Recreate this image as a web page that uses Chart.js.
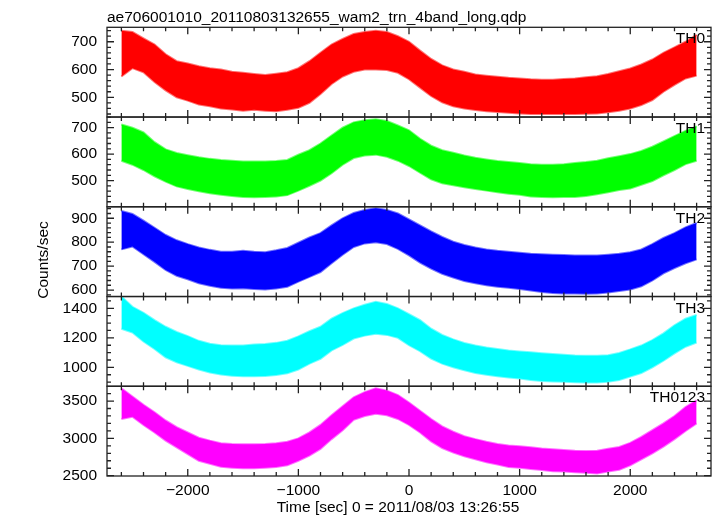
<!DOCTYPE html>
<html>
<head>
<meta charset="utf-8">
<script src="https://cdn.jsdelivr.net/npm/chart.js@4.4.1/dist/chart.umd.min.js"></script>
<style>
  html, body { margin: 0; padding: 0; background: #fff; }
</style>
</head>
<body>
<canvas id="lc" width="717" height="516"></canvas>
<script>
// ===== data (envelope of the noisy band, every 100 s) =====
var times = [-2600, -2500, -2400, -2300, -2200, -2100, -2000, -1900, -1800, -1700,
  -1600, -1500, -1400, -1300, -1200, -1100, -1000, -900, -800, -700,
  -600, -500, -400, -300, -200, -100, 0, 100, 200, 300,
  400, 500, 600, 700, 800, 900, 1000, 1100, 1200, 1300,
  1400, 1500, 1600, 1700, 1800, 1900, 2000, 2100, 2200, 2300,
  2400, 2500, 2600];

var th0Hi = [740, 735, 712, 690, 655, 630, 622, 612, 605, 600, 592, 588, 584, 580, 585, 590, 605, 630, 660, 690,
  710, 728, 735, 740, 735, 720, 700, 668, 638, 615, 600, 592, 582, 578, 574, 570, 568, 565, 563, 563,
  566, 568, 572, 576, 584, 594, 604, 618, 636, 660, 680, 700, 725];
var th0Lo = [575, 605, 590, 555, 525, 500, 488, 474, 468, 460, 456, 452, 455, 452, 450, 455, 462, 480, 512, 548,
  575, 592, 600, 600, 598, 588, 565, 535, 505, 482, 468, 460, 454, 450, 447, 444, 442, 440, 440, 440,
  440, 440, 441, 442, 446, 452, 460, 472, 490, 520, 545, 568, 578];

var th1Hi = [712, 700, 682, 645, 618, 604, 596, 588, 582, 578, 575, 572, 572, 572, 574, 578, 598, 615, 640, 670,
  700, 720, 728, 732, 725, 708, 690, 658, 632, 615, 605, 595, 586, 580, 574, 570, 566, 562, 560, 560,
  562, 566, 570, 575, 584, 592, 600, 612, 628, 648, 668, 688, 705];
var th1Lo = [575, 560, 540, 516, 496, 478, 468, 460, 452, 446, 442, 438, 437, 438, 440, 445, 462, 480, 500, 528,
  560, 585, 595, 598, 590, 575, 555, 530, 505, 490, 482, 475, 468, 462, 456, 450, 446, 440, 438, 437,
  438, 438, 442, 448, 456, 464, 470, 484, 498, 520, 540, 562, 575];

var th2Hi = [930, 918, 890, 860, 830, 808, 792, 778, 768, 760, 760, 764, 760, 758, 766, 776, 798, 820, 838, 870,
  900, 922, 935, 942, 935, 920, 895, 870, 845, 822, 802, 788, 778, 770, 764, 760, 756, 752, 750, 748,
  746, 744, 744, 744, 748, 752, 758, 770, 792, 818, 838, 862, 880];
var th2Lo = [770, 782, 750, 718, 684, 660, 645, 628, 618, 610, 606, 608, 604, 602, 606, 614, 635, 655, 675, 712,
  748, 780, 795, 800, 792, 772, 745, 715, 690, 668, 652, 638, 628, 620, 614, 610, 604, 598, 592, 588,
  586, 586, 585, 586, 590, 596, 602, 616, 640, 670, 692, 712, 728];

var th3Hi = [1480, 1410, 1370, 1320, 1275, 1240, 1212, 1180, 1160, 1150, 1148, 1148, 1155, 1158, 1166, 1180, 1210, 1245, 1275, 1330,
  1368, 1400, 1425, 1445, 1430, 1400, 1360, 1320, 1262, 1220, 1190, 1165, 1148, 1135, 1125, 1115, 1108, 1102, 1096, 1090,
  1085, 1080, 1078, 1078, 1082, 1098, 1122, 1148, 1185, 1230, 1285, 1330, 1355];
var th3Lo = [1262, 1236, 1175, 1125, 1068, 1035, 1010, 985, 965, 952, 944, 940, 940, 942, 948, 960, 985, 1025, 1058, 1115,
  1152, 1195, 1215, 1228, 1220, 1200, 1150, 1110, 1060, 1025, 1000, 980, 962, 950, 940, 932, 925, 915, 908, 905,
  902, 900, 898, 898, 902, 915, 938, 962, 1000, 1045, 1095, 1140, 1168];

var th4Hi = [3670, 3560, 3450, 3350, 3240, 3150, 3080, 3010, 2970, 2935, 2925, 2920, 2920, 2925, 2935, 2955, 3000, 3080, 3180, 3310,
  3430, 3550, 3620, 3670, 3640, 3580, 3480, 3370, 3260, 3160, 3090, 3030, 2990, 2955, 2925, 2905, 2895, 2880, 2865, 2855,
  2845, 2835, 2832, 2835, 2860, 2885, 2940, 3020, 3110, 3200, 3300, 3420, 3510];
var th4Lo = [3260, 3290, 3180, 3080, 2970, 2880, 2790, 2700, 2660, 2620, 2605, 2600, 2600, 2605, 2615, 2640, 2700, 2770, 2860, 2990,
  3110, 3250, 3300, 3330, 3310, 3260, 3180, 3080, 2960, 2870, 2810, 2760, 2720, 2680, 2650, 2615, 2605, 2590, 2575, 2560,
  2555, 2545, 2540, 2530, 2555, 2580, 2640, 2720, 2800, 2890, 2990, 3100, 3200];

// tick labels
var xTicks = [-2000, -1000, 0, 1000, 2000];
var th0Ticks = [500, 600, 700];
var th1Ticks = [500, 600, 700];
var th2Ticks = [600, 700, 800, 900];
var th3Ticks = [1000, 1200, 1400];
var th4Ticks = [2500, 3000, 3500];

var titleText = "ae706001010_20110803132655_wam2_trn_4band_long.qdp";
var xTitle = "Time [sec] 0 = 2011/08/03 13:26:55";
var yTitle = "Counts/sec";

// ===== panels =====
var panels = [
  { id: "y0", label: "TH0",    color: "#ff0000", hi: th0Hi, lo: th0Lo, min: 429,  max: 752,  ticks: th0Ticks, minor: 20 },
  { id: "y1", label: "TH1",    color: "#00ff00", hi: th1Hi, lo: th1Lo, min: 401,  max: 740,  ticks: th1Ticks, minor: 20 },
  { id: "y2", label: "TH2",    color: "#0000ff", hi: th2Hi, lo: th2Lo, min: 573,  max: 948,  ticks: th2Ticks, minor: 20 },
  { id: "y3", label: "TH3",    color: "#00ffff", hi: th3Hi, lo: th3Lo, min: 872,  max: 1480, ticks: th3Ticks, minor: 50 },
  { id: "y4", label: "TH0123", color: "#ff00ff", hi: th4Hi, lo: th4Lo, min: 2496, max: 3698, ticks: th4Ticks, minor: 100 }
];

var FONT = '"Liberation Sans", Arial, Helvetica, sans-serif';
Chart.defaults.font.family = FONT;
Chart.defaults.font.size = 15.5;
Chart.defaults.color = "#000";

function fmt(v) {
  return v < 0 ? "\u2212" + Math.abs(v) : String(v);
}

function alpha(hex, a) {
  var r = parseInt(hex.substr(1, 2), 16), g = parseInt(hex.substr(3, 2), 16), b = parseInt(hex.substr(5, 2), 16);
  return "rgba(" + r + "," + g + "," + b + "," + a + ")";
}

var datasets = [];
var scales = {
  x: {
    type: "linear", position: "bottom", min: -2730, max: 2730,
    grid: { display: false, drawTicks: false }, border: { display: false },
    ticks: { padding: 5, maxRotation: 0, autoSkip: false, callback: function (v) { return fmt(v); } },
    afterBuildTicks: function (s) { s.ticks = xTicks.map(function (v) { return { value: v }; }); },
    afterFit: function (s) { s.height = 40; }
  }
};

panels.forEach(function (p, i) {
  datasets.push({
    data: times.map(function (t, k) { return { x: t, y: p.hi[k] }; }),
    yAxisID: p.id, borderColor: alpha(p.color, 0.55), borderWidth: 2,
    backgroundColor: p.color, fill: "+1", pointRadius: 0, tension: 0
  });
  datasets.push({
    data: times.map(function (t, k) { return { x: t, y: p.lo[k] }; }),
    yAxisID: p.id, borderColor: alpha(p.color, 0.55), borderWidth: 2,
    fill: false, pointRadius: 0, tension: 0
  });
  scales[p.id] = {
    type: "linear", position: "left", stack: "bands", stackWeight: 1, weight: 5 - i,
    min: p.min, max: p.max,
    grid: { display: false, drawTicks: false }, border: { display: false },
    ticks: { padding: 10, autoSkip: false, callback: function (v) { return fmt(v); } },
    afterBuildTicks: function (s) { s.ticks = p.ticks.map(function (v) { return { value: v }; }); },
    afterFit: function (s) { s.width = 107; }
  };
});

// frames, inward ticks, panel names and titles
var framePlugin = {
  id: "frames",
  afterDraw: function (chart) {
    var ctx = chart.ctx, a = chart.chartArea, xs = chart.scales.x;
    ctx.save();
    ctx.strokeStyle = "#222";
    ctx.lineWidth = 1.3;
    ctx.fillStyle = "#000";
    ctx.font = "15.5px " + FONT;
    panels.forEach(function (p) {
      var s = chart.scales[p.id];
      ctx.strokeRect(a.left, s.top, a.right - a.left, s.bottom - s.top);
      ctx.beginPath();
      for (var v = Math.ceil(xs.min / 200) * 200; v <= xs.max; v += 200) {
        var px = xs.getPixelForValue(v);
        var len = (v % 1000 === 0) ? 7 : 4;
        ctx.moveTo(px, s.top); ctx.lineTo(px, s.top + len);
        ctx.moveTo(px, s.bottom); ctx.lineTo(px, s.bottom - len);
      }
      for (var w = Math.ceil(s.min / p.minor) * p.minor; w <= s.max; w += p.minor) {
        var py = s.getPixelForValue(w);
        var l2 = p.ticks.indexOf(w) >= 0 ? 7 : 4;
        ctx.moveTo(a.left, py); ctx.lineTo(a.left + l2, py);
        ctx.moveTo(a.right, py); ctx.lineTo(a.right - l2, py);
      }
      ctx.stroke();
      ctx.textAlign = "right";
      ctx.textBaseline = "alphabetic";
      ctx.fillText(p.label, a.right - 6, s.top + 16);
    });
    ctx.textAlign = "left";
    ctx.fillText(titleText, 107, 21.5);
    ctx.textAlign = "center";
    ctx.fillText(xTitle, 398, 511.5);
    ctx.translate(48, 260);
    ctx.rotate(-Math.PI / 2);
    ctx.fillText(yTitle, 0, 0);
    ctx.restore();
  }
};

new Chart(document.getElementById("lc"), {
  type: "line",
  data: { datasets: datasets },
  options: {
    responsive: false,
    animation: false,
    events: [],
    layout: { padding: { top: 27.3, right: 6, left: 0, bottom: 0 } },
    scales: scales,
    plugins: { legend: { display: false }, title: { display: false }, tooltip: { enabled: false } }
  },
  plugins: [framePlugin]
});
</script>
</body>
</html>
